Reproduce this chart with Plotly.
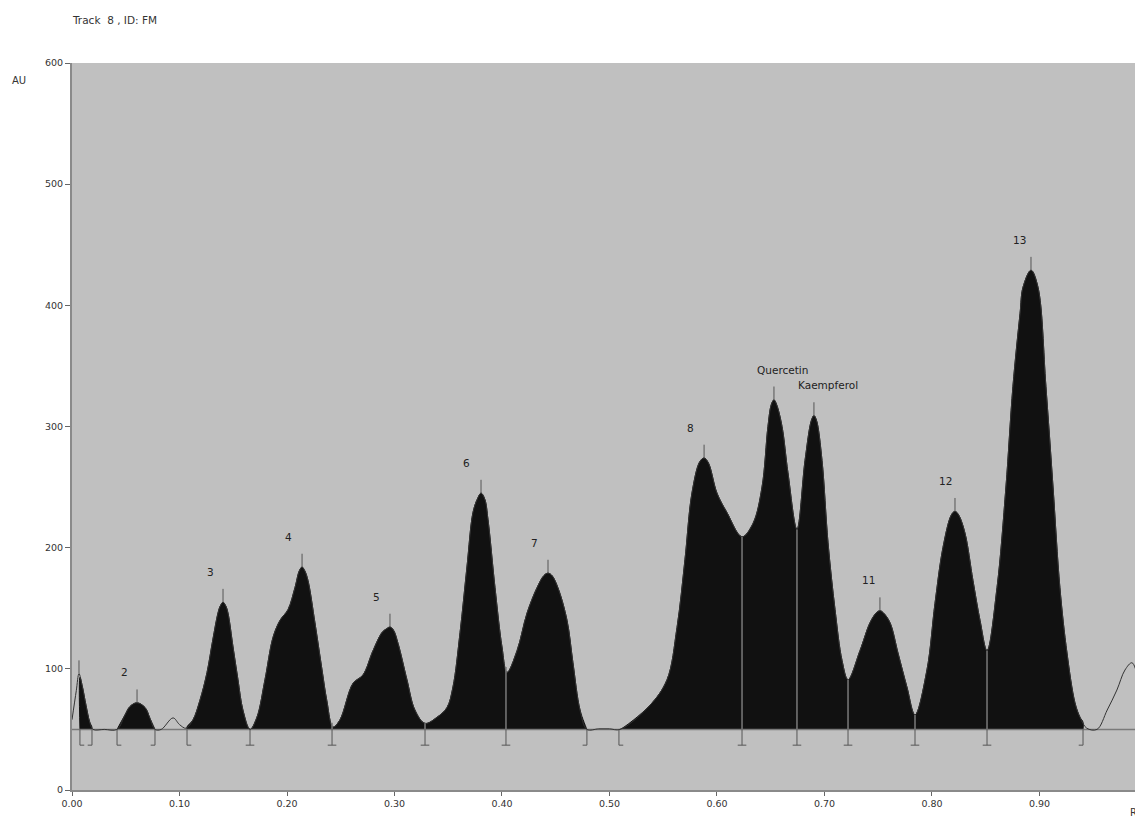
import numpy as np
import plotly.graph_objects as go

# ---- data ----
rf = [0.000, 0.004, 0.0065, 0.0095, 0.013, 0.0165, 0.0195, 0.030, 0.0419, 0.0493,
      0.054, 0.0605, 0.068, 0.0726, 0.0772, 0.083, 0.094, 0.100, 0.106, 0.1126,
      0.119, 0.1256, 0.131, 0.1358, 0.138, 0.1405, 0.143, 0.1451, 0.1498, 0.1544,
      0.159, 0.1656, 0.172, 0.1795, 0.187, 0.1935, 0.201, 0.2074, 0.2115, 0.214,
      0.2165, 0.2195, 0.226, 0.2326, 0.237, 0.2428, 0.2493, 0.2614, 0.2707, 0.280,
      0.2884, 0.2925, 0.2958, 0.299, 0.3033, 0.3116, 0.319, 0.3284, 0.3395, 0.3488,
      0.3544, 0.361, 0.3674, 0.373, 0.377, 0.3805, 0.384, 0.387, 0.3935, 0.400,
      0.4047, 0.414, 0.4233, 0.4326, 0.439, 0.4428, 0.4465, 0.452, 0.4605, 0.466,
      0.4726, 0.479, 0.490, 0.500, 0.5098, 0.5377, 0.5535, 0.5628, 0.5702, 0.5767,
      0.584, 0.588, 0.592, 0.600, 0.6093, 0.6233, 0.6335, 0.6419, 0.6474, 0.6505,
      0.653, 0.6555, 0.6605, 0.666, 0.6744, 0.6819, 0.6878, 0.6902, 0.6926, 0.6977,
      0.7033, 0.7098, 0.7163, 0.7219, 0.733, 0.7423, 0.748, 0.7516, 0.755, 0.761,
      0.7684, 0.7767, 0.7842, 0.7953, 0.8028, 0.8102, 0.818, 0.8214, 0.8248, 0.8307,
      0.8381, 0.8447, 0.8512, 0.8605, 0.8688, 0.8753, 0.8819, 0.8847, 0.8921, 0.8986,
      0.906, 0.9126, 0.919, 0.9256, 0.933, 0.9377, 0.944, 0.9535, 0.963, 0.972,
      0.9795, 0.986, 0.9916, 0.9963]
au = [58, 82, 96, 86, 70, 56, 50, 50, 50, 62,
      69, 72, 68, 59, 50, 50, 59.5, 54, 51, 58,
      74, 97, 124, 146, 152, 155, 152, 146, 118, 91,
      66, 50, 60, 91, 126, 140, 149, 167, 181, 184,
      181, 173, 138, 99, 74, 52, 58, 88, 95, 115,
      130, 133, 134.5, 132, 121, 91, 66, 55, 60, 68,
      85, 130, 184, 229, 240, 245, 240, 223, 167, 118,
      97, 115, 146, 167, 177, 179, 177, 167, 140, 105,
      66, 50, 50.5, 50.5, 50, 70, 91, 134, 190, 245,
      271, 274, 270, 245, 229, 209, 220, 250, 300, 318,
      322, 318, 300, 262, 215, 272, 305, 309, 305, 272,
      204, 149, 107, 91, 115, 138, 146, 148, 146, 138,
      113, 85, 62, 99, 154, 200, 227, 230, 227, 212,
      173, 140, 115, 167, 250, 333, 393, 415, 429, 415,
      333, 250, 167, 113, 72, 60, 51, 50, 66, 82.5,
      99, 105, 93, 74]

baseline_au = 50

# integrated regions (start, end) and peak boundaries
starts = [0.0074, 0.0419, 0.107, 0.5088]
ends = [0.0186, 0.0772, 0.479, 0.9405]
splits = [0.1656, 0.2419, 0.3284, 0.4037, 0.6233, 0.6744, 0.7219, 0.7842, 0.8512]

# peak apexes and labels
peak_rf = [0.0065, 0.0605, 0.1405, 0.214, 0.2958, 0.3805, 0.4428, 0.588, 0.653, 0.6902,
           0.7516, 0.8214, 0.8921]
peak_labels = ["", "2", "3", "4", "5", "6", "7", "8", "Quercetin", "Kaempferol",
               "11", "12", "13"]

x_ticks = [0.0, 0.1, 0.2, 0.3, 0.4, 0.5, 0.6, 0.7, 0.8, 0.9]
x_ticktext = ["0.00", "0.10", "0.20", "0.30", "0.40", "0.50", "0.60", "0.70", "0.80", "0.90"]
y_ticks = [0, 100, 200, 300, 400, 500, 600]

# ---- styling ----
label_xshift = [0, -13, -13, -14, -13, -15, -14, -14, 9, 14, -11, -9, -11]
FILL = "#111111"
GRAY = "#7a7a7a"
FONT = "DejaVu Sans, Verdana, sans-serif"
SMOOTH = 1.0

rf_a = np.array(rf)
au_a = np.array(au)

fig = go.Figure()

# filled integrated areas
for s, e in zip(starts, ends):
    mask = (rf_a > s) & (rf_a < e)
    xs = [s, s] + list(rf_a[mask]) + [e, e]
    ys = [baseline_au, float(np.interp(s, rf_a, au_a))] + list(au_a[mask]) + \
         [float(np.interp(e, rf_a, au_a)), baseline_au]
    fig.add_trace(go.Scatter(x=xs, y=ys, mode="lines", fill="toself",
                             fillcolor=FILL,
                             line=dict(color=FILL, width=1, shape="spline", smoothing=SMOOTH),
                             hoverinfo="skip", showlegend=False))

# baseline
fig.add_trace(go.Scatter(x=[0, 1.0], y=[baseline_au, baseline_au], mode="lines",
                         line=dict(color=GRAY, width=1.5), hoverinfo="skip", showlegend=False))

# curve
fig.add_trace(go.Scatter(x=rf, y=au, mode="lines",
                         line=dict(color="#333333", width=1, shape="spline", smoothing=SMOOTH),
                         hoverinfo="skip", showlegend=False))

# split lines inside fills
sx, sy = [], []
for p in splits:
    sx += [p, p, None]
    sy += [baseline_au, float(np.interp(p, rf_a, au_a)), None]
fig.add_trace(go.Scatter(x=sx, y=sy, mode="lines", line=dict(color=GRAY, width=1.5),
                         hoverinfo="skip", showlegend=False))

# boundary markers below baseline
foot = 0.004
drop = 13
mx, my = [], []
for p in starts:
    mx += [p, p, p + foot, None]
    my += [baseline_au, baseline_au - drop, baseline_au - drop, None]
for p in ends:
    mx += [p, p, p - foot, None]
    my += [baseline_au, baseline_au - drop, baseline_au - drop, None]
for p in splits:
    mx += [p, p, None, p - foot, p + foot, None]
    my += [baseline_au, baseline_au - drop, None, baseline_au - drop, baseline_au - drop, None]
fig.add_trace(go.Scatter(x=mx, y=my, mode="lines", line=dict(color="#555555", width=1),
                         hoverinfo="skip", showlegend=False))

# apex ticks and labels
tx, ty = [], []
annotations = []
for p, lab, xs_ in zip(peak_rf, peak_labels, label_xshift):
    top = float(np.interp(p, rf_a, au_a))
    tx += [p, p, None]
    ty += [top, top + 11, None]
    if lab:
        annotations.append(dict(x=p, y=top + 11, text=lab, showarrow=False,
                                xanchor="center", yanchor="bottom", xshift=xs_, yshift=9,
                                font=dict(family=FONT, size=10.5, color="#222222")))
fig.add_trace(go.Scatter(x=tx, y=ty, mode="lines", line=dict(color="#555555", width=1),
                         hoverinfo="skip", showlegend=False))

annotations += [
    dict(xref="paper", yref="paper", x=0.0, y=1.0, xshift=-2, yshift=43,
         text="Track  8 , ID: FM", showarrow=False, xanchor="left", yanchor="middle",
         font=dict(family=FONT, size=10.5, color="#333333")),
    dict(xref="paper", yref="paper", x=0, y=1.0, xshift=-53, yshift=-17,
         text="AU", showarrow=False, xanchor="center", yanchor="middle",
         font=dict(family=FONT, size=10, color="#333333")),
    dict(xref="paper", yref="paper", x=1.0, y=0, xshift=0, yshift=-22,
         text="Rf", showarrow=False, xanchor="right", yanchor="middle",
         font=dict(family=FONT, size=10, color="#333333")),
]

# page body adds an 8px margin, so the figure is sized to end at the window edge
fig.update_layout(
    width=1135, height=820,
    margin=dict(l=64, r=0, t=55, b=38),
    paper_bgcolor="white", plot_bgcolor="#c0c0c0",
    showlegend=False,
    annotations=annotations,
    xaxis=dict(range=[0, 0.9963], tickvals=x_ticks, ticktext=x_ticktext,
               showgrid=False, zeroline=False, showline=True, linecolor="#8a8a8a", linewidth=2,
               ticks="outside", ticklen=4, tickcolor="#666666",
               tickfont=dict(family=FONT, size=9.5, color="#333333")),
    yaxis=dict(range=[0, 600], tickvals=y_ticks, showgrid=False, zeroline=False,
               showline=True, linecolor="#8a8a8a", linewidth=2,
               ticks="outside", ticklen=5, tickcolor="#666666",
               tickfont=dict(family=FONT, size=9.5, color="#333333")),
)

fig.write_html("out.html")
